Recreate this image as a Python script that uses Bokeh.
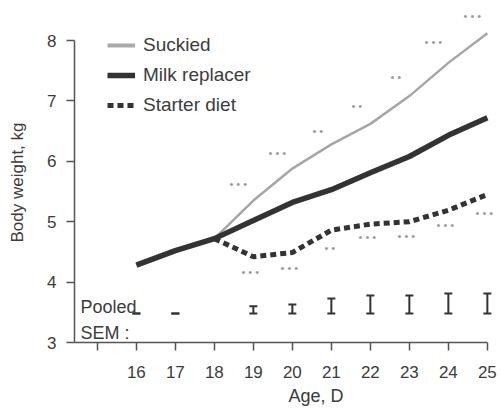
import math
from bokeh.plotting import figure
from bokeh.models import (Range1d, FixedTicker, Legend, LegendItem, Whisker, TeeHead,
                          ColumnDataSource, Label, Title, LinearAxis)
from bokeh.core.properties import value
from bokeh.embed import file_html
from bokeh.resources import INLINE

# ---- data ----
days_all = [16, 17, 18, 19, 20, 21, 22, 23, 24, 25]
milk_replacer = [4.28, 4.52, 4.72, 5.02, 5.32, 5.53, 5.81, 6.08, 6.43, 6.72]
days_late = [18, 19, 20, 21, 22, 23, 24, 25]
suckled = [4.72, 5.35, 5.88, 6.28, 6.62, 7.08, 7.63, 8.12]
starter = [4.72, 4.42, 4.49, 4.86, 4.96, 5.0, 5.19, 5.45]

sig_days = [19, 20, 21, 22, 23, 24, 25]
sig_upper_y = [5.63, 6.13, 6.51, 6.92, 7.39, 7.98, 8.40]
sig_upper_txt = ["•  •  •", "•  •  •", "•  •", "•  •", "•  •", "•  •  •", "•  •  •"]
sig_lower_y = [4.16, 4.24, 4.56, 4.74, 4.76, 4.95, 5.14]
sig_lower_txt = ["•  •  •", "•  •  •", "•  •", "•  •  •", "•  •  •", "•  •  •", "•  •  •"]

sem_days = [16, 17, 19, 20, 21, 22, 23, 24, 25]
pooled_sem = [0.0, 0.0, 0.12, 0.15, 0.25, 0.30, 0.30, 0.33, 0.33]
sem_base = 3.48

x_ticks = [15, 16, 17, 18, 19, 20, 21, 22, 23, 24, 25]
y_ticks = [3, 4, 5, 6, 7, 8]

FONT = "Liberation Sans"
TXT = "#3c3c3c"
AX = "#555555"

p = figure(width=501, height=410, x_range=Range1d(14.414, 25.26), y_range=Range1d(3.0, 8.58),
           min_border_left=74, min_border_right=4, min_border_top=5, min_border_bottom=68,
           output_backend="svg", toolbar_location=None)
p.outline_line_color = None
p.xgrid.visible = False
p.ygrid.visible = False
p.background_fill_color = "white"

for ax in (p.xaxis[0], p.yaxis[0]):
    ax.axis_line_color = AX
    ax.axis_line_width = 1.5
    ax.major_tick_line_color = AX
    ax.major_tick_line_width = 1.5
    ax.major_tick_out = 8
    ax.major_tick_in = 0
    ax.minor_tick_line_color = None
    ax.major_label_text_font = FONT
    ax.major_label_text_color = TXT
    ax.major_label_text_font_size = "17px"

p.xaxis.ticker = FixedTicker(ticks=x_ticks)
p.xaxis.major_label_overrides = {15: ""}
p.xaxis.bounds = (14.414, 25)
p.xaxis.major_label_standoff = 15
p.yaxis.ticker = FixedTicker(ticks=y_ticks)
p.yaxis.bounds = (3, 8)
p.yaxis.major_label_standoff = 10

# invisible spacer axis between the y axis and its title
spacer = LinearAxis(ticker=FixedTicker(ticks=[5]), major_label_overrides={5: ""},
                    axis_line_color=None, major_tick_line_color=None,
                    minor_tick_line_color=None, major_tick_out=11, major_tick_in=0,
                    minor_tick_out=0, minor_tick_in=0, major_label_standoff=0)
p.add_layout(spacer, "left")

# axis titles
p.add_layout(Title(text="Age, D", align="left", offset=214, standoff=6,
                   vertical_align="bottom",
                   text_font=FONT, text_font_size="18px", text_font_style="normal",
                   text_color=TXT), "below")
p.add_layout(Title(text="Body weight, kg", align="left", offset=100, standoff=10,
                   vertical_align="top",
                   text_font=FONT, text_font_size="17px", text_font_style="normal",
                   text_color=TXT), "left")

r_suck = p.line(days_late, suckled, line_color="#a6a6a6", line_width=2.5)
r_milk = p.line(days_all, milk_replacer, line_color="#333333", line_width=5.5)
r_start = p.line(days_late, starter, line_color="#333333", line_width=5, line_dash="6 4")
leg_suck = p.line(x=[float("nan")], y=[float("nan")], line_color="#aaaaaa", line_width=4)

# significance marks
p.text(x=sig_days, y=sig_upper_y, text=sig_upper_txt, text_font=value(FONT),
       text_font_size="11px", text_color="#9a9a9a", text_align="center",
       text_baseline="middle", x_offset=-12)
p.text(x=sig_days, y=sig_lower_y, text=sig_lower_txt, text_font=value(FONT),
       text_font_size="11px", text_color="#9a9a9a", text_align="center",
       text_baseline="middle")

# pooled SEM bars
src = ColumnDataSource(dict(x=sem_days, lo=[sem_base] * len(sem_days),
                            hi=[sem_base + s for s in pooled_sem]))
w = Whisker(base="x", lower="lo", upper="hi", source=src, dimension="height",
            line_color="#333333", line_width=2,
            upper_head=TeeHead(size=8, line_color="#333333", line_width=2),
            lower_head=TeeHead(size=8, line_color="#333333", line_width=2))
p.add_layout(w)

p.add_layout(Label(x=14.57, y=3.596, text="Pooled", text_font=FONT, text_font_size="18px",
                   text_color=TXT, text_baseline="alphabetic"))
p.add_layout(Label(x=14.57, y=3.15, text="SEM :", text_font=FONT, text_font_size="18px",
                   text_color=TXT, text_baseline="alphabetic"))

legend = Legend(items=[LegendItem(label="Suckied", renderers=[leg_suck]),
                       LegendItem(label="Milk replacer", renderers=[r_milk]),
                       LegendItem(label="Starter diet", renderers=[r_start])],
                location=(33, 226), border_line_color=None, background_fill_alpha=0,
                padding=0, margin=0, spacing=8, glyph_width=28, glyph_height=22,
                label_height=22, label_standoff=8, label_text_font=FONT,
                label_text_font_size="19px", label_text_color=TXT)
p.add_layout(legend)

open("out.html", "w").write(file_html(p, INLINE))
